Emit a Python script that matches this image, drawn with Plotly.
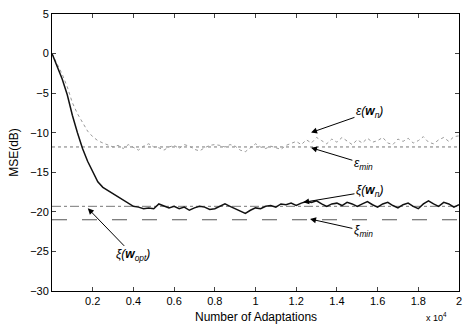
import plotly.graph_objects as go

# x in units of 10^4 adaptations
x_vals = [i * 0.025 for i in range(81)]

xi_wn = [0, -1.6, -3.2, -5.2, -7.8, -10.0, -12.0, -13.6, -15.0, -16.2,
         -16.9, -17.3, -17.7, -18.1, -18.6, -19.0, -19.3, -19.4, -19.6, -19.5,
         -19.6, -19.0, -19.3, -19.5, -19.3, -19.6, -19.4, -19.8, -19.5, -19.3,
         -19.4, -19.7, -19.6, -19.3, -19.0, -19.3, -19.6, -19.9, -20.2, -19.8,
         -19.5, -19.6, -19.3, -19.2, -19.4, -19.0, -19.1, -18.9, -19.2, -18.9,
         -18.7, -18.8, -18.6, -19.0, -19.3, -19.0, -18.9, -19.2, -18.8, -19.0,
         -19.3, -19.0, -18.7, -19.1, -19.4, -19.0, -18.8, -19.2, -19.5, -19.1,
         -18.9, -19.3, -19.6, -19.0, -18.6, -19.0, -19.3, -18.8, -19.0, -19.4,
         -19.1]

e_wn = [0, -1.2, -2.6, -4.2, -6.2, -7.6, -8.8, -9.8, -10.5, -11.0,
        -11.3, -11.6, -11.8, -11.6, -12.0, -11.5, -11.9, -12.2, -11.7, -11.4,
        -11.8, -11.9, -12.2, -11.8, -11.6, -12.0, -11.5, -11.7, -12.1, -12.3,
        -11.9, -11.6, -11.5, -11.6, -11.8, -11.5, -11.7, -12.2, -12.4, -11.9,
        -11.4, -11.8, -12.0, -11.7, -11.9, -12.1, -11.6, -11.4, -11.1, -11.5,
        -10.9, -11.3, -10.6, -11.0, -11.4, -10.8, -11.2, -10.6, -11.1, -11.5,
        -10.9, -11.3, -10.7, -11.2, -11.0, -10.6, -11.3, -11.5, -10.8, -11.1,
        -10.7, -11.3, -11.0, -10.5, -11.2, -11.4, -10.9, -10.6, -11.1, -10.5,
        -10.4]

e_min = -11.8
xi_opt = -19.3
xi_min = -21.0

x_ticks = [0.2, 0.4, 0.6, 0.8, 1, 1.2, 1.4, 1.6, 1.8, 2]
x_ticktext = ["0.2", "0.4", "0.6", "0.8", "1", "1.2", "1.4", "1.6", "1.8", "2"]
y_ticks = [-30, -25, -20, -15, -10, -5, 0, 5]

fig = go.Figure()
fig.add_trace(go.Scatter(x=[0, 2], y=[e_min, e_min], mode="lines",
                         line=dict(color="#777", width=1, dash="dot")))
fig.add_trace(go.Scatter(x=[0, 2], y=[xi_opt, xi_opt], mode="lines",
                         line=dict(color="#777", width=1, dash="dashdot")))
fig.add_trace(go.Scatter(x=[0, 2], y=[xi_min, xi_min], mode="lines",
                         line=dict(color="#555", width=1.2, dash="longdash")))
fig.add_trace(go.Scatter(x=x_vals, y=e_wn, mode="lines",
                         line=dict(color="#999", width=1, dash="dot")))
fig.add_trace(go.Scatter(x=x_vals, y=xi_wn, mode="lines",
                         line=dict(color="#111", width=1.5)))

font = "Liberation Sans, Arial, sans-serif"
ann = [
    dict(text="<i>ε(<b>w</b><sub>n</sub>)</i>", x=1.273, y=-9.98, ax=1.56, ay=-7.4),
    dict(text="<i>ε<sub>min</sub></i>", x=1.273, y=-11.9, ax=1.53, ay=-13.9),
    dict(text="<i>ξ(<b>w</b><sub>n</sub>)</i>", x=1.234, y=-18.8, ax=1.56, ay=-17.4),
    dict(text="<i>ξ<sub>min</sub></i>", x=1.268, y=-20.9, ax=1.53, ay=-22.4),
    dict(text="<i>ξ(<b>w</b><sub>opt</sub>)</i>", x=0.176, y=-19.55, ax=0.40, ay=-25.5),
]
for a in ann:
    fig.add_annotation(text=a["text"], x=a["x"], y=a["y"], ax=a["ax"], ay=a["ay"],
                       xref="x", yref="y", axref="x", ayref="y",
                       showarrow=True, arrowhead=2, arrowsize=1.2, arrowwidth=1,
                       arrowcolor="black", font=dict(family=font, size=12, color="black"))

fig.add_annotation(text="Number of Adaptations", x=0.5, y=-0.062, xref="paper", yref="paper",
                   yanchor="top", showarrow=False, font=dict(family=font, size=12, color="black"))
fig.add_annotation(text="MSE(dB)", x=-0.095, y=0.5, xref="paper", yref="paper",
                   textangle=-90, xanchor="center", showarrow=False,
                   font=dict(family=font, size=12, color="black"))
fig.add_annotation(text="x 10<sup>4</sup>", x=0.915, y=-0.066, xref="paper", yref="paper",
                   yanchor="top", xanchor="left", showarrow=False,
                   font=dict(family=font, size=9, color="black"))

fig.update_layout(
    width=470, height=325,
    margin=dict(l=52, r=8, t=13, b=34),
    plot_bgcolor="white", paper_bgcolor="white",
    showlegend=False,
    font=dict(family=font, size=11, color="black"),
    xaxis=dict(range=[0, 2], tickvals=x_ticks, ticktext=x_ticktext,
               ticks="inside", ticklen=4, showline=True, linecolor="black",
               mirror="ticks", showgrid=False, zeroline=False, tickfont=dict(size=11)),
    yaxis=dict(range=[-30, 5], tickvals=y_ticks, ticks="inside", ticklen=4,
               showline=True, linecolor="black", mirror="ticks", showgrid=False,
               zeroline=False, tickfont=dict(size=11)),
)

fig.write_html("out.html")
